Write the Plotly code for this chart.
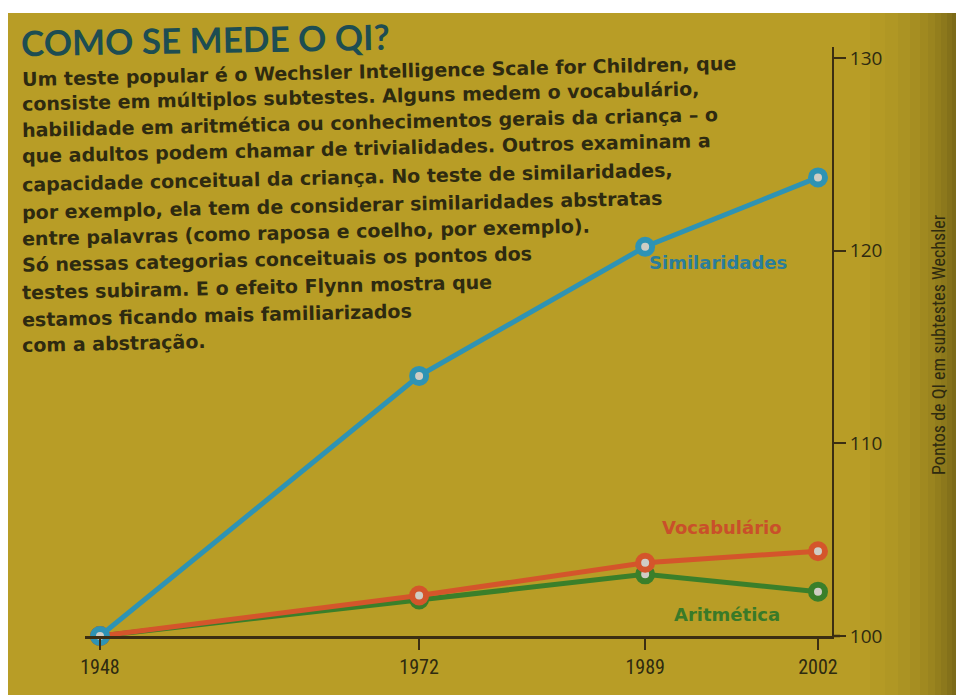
import plotly.graph_objects as go

years = [1948, 1972, 1989, 2002]
similaridades = [100, 113.5, 120.2, 123.8]
vocabulario = [100, 102.1, 103.8, 104.4]
aritmetica = [100, 101.9, 103.2, 102.3]
y_ticks = [100, 110, 120, 130]

title = "COMO SE MEDE O QI?"
body_lines = [
    "Um teste popular é o Wechsler Intelligence Scale for Children, que",
    "consiste em múltiplos subtestes. Alguns medem o vocabulário,",
    "habilidade em aritmética ou conhecimentos gerais da criança – o",
    "que adultos podem chamar de trivialidades. Outros examinam a",
    "capacidade conceitual da criança. No teste de similaridades,",
    "por exemplo, ela tem de considerar similaridades abstratas",
    "entre palavras (como raposa e coelho, por exemplo).",
    "Só nessas categorias conceituais os pontos dos",
    "testes subiram. E o efeito Flynn mostra que",
    "estamos ficando mais familiarizados",
    "com a abstração.",
]
y_title = "Pontos de QI em subtestes Wechsler"

OFF = 8  # browser body margin
W, H = 964 - OFF, 695 - OFF
L = 85 - OFF
T = 47 - OFF
R = W - (832 - OFF)
B = H - (636 - OFF)
PW, PH = W - L - R, H - T - B


def xp(px):
    return (px - OFF - L) / PW


def yp(py):
    return (H - B - (py - OFF)) / PH


BG = "#b89d26"
AXC = "#3b2e12"
TXT = "#2e2a10"
C_SIM = "#2e93b4"
C_VOC = "#d4552b"
C_ARI = "#3a7f2a"
FILL = "#cfcdc4"

fig = go.Figure()
for name, vals, col in [("Aritmética", aritmetica, C_ARI),
                        ("Vocabulário", vocabulario, C_VOC),
                        ("Similaridades", similaridades, C_SIM)]:
    fig.add_trace(go.Scatter(
        x=years, y=vals, mode="lines+markers", name=name,
        line=dict(color=col, width=5),
        marker=dict(size=14, color=FILL, line=dict(color=col, width=6)),
        cliponaxis=False, showlegend=False, hoverinfo="x+y+name"))

shapes = []
shapes.append(dict(type="rect", xref="paper", yref="paper", x0=xp(7), x1=xp(980),
                   y0=yp(710), y1=yp(13), fillcolor=BG, line=dict(width=0), layer="below"))
dark = [(870, "#b49a25"), (885, "#b09724"), (898, "#ab9323"), (910, "#a68e22"),
        (920, "#a08920"), (928, "#9a841f"), (935, "#937e1d"), (941, "#8c781c"),
        (947, "#84711a"), (952, "#7c6a18"), (957, "#736216"), (961, "#6a5a15")]
for px0, c in dark:
    shapes.append(dict(type="rect", xref="paper", yref="paper", x0=xp(px0), x1=xp(980),
                       y0=yp(710), y1=yp(13), fillcolor=c, line=dict(width=0), layer="below"))
shapes.append(dict(type="line", xref="paper", yref="paper", x0=1, x1=xp(840),
                   y0=0, y1=0, line=dict(color=AXC, width=2.5)))

annotations = []
annotations.append(dict(text=title, xref="paper", yref="paper", x=xp(19), y=yp(39),
                        xanchor="left", yanchor="middle", showarrow=False,
                        font=dict(family="Lato", size=35, color="#1d4d52", weight="bold"),
                        textangle=-1.0))
line_y = [71, 96, 122, 148, 177, 205, 232, 259, 287, 315, 343]
for txt, yy in zip(body_lines, line_y):
    annotations.append(dict(text=txt, xref="paper", yref="paper", x=xp(20), y=yp(yy),
                            xanchor="left", yanchor="middle", showarrow=False,
                            font=dict(family="DejaVu Sans", size=19, color=TXT, weight="bold"),
                            textangle=-1.3))
for txt, cx, cy, col in [("Similaridades", 718, 262, "#2a7d9c"),
                         ("Vocabulário", 722, 527, "#c9502a"),
                         ("Aritmética", 727, 614, "#3a7a28")]:
    annotations.append(dict(text=txt, xref="paper", yref="paper", x=xp(cx), y=yp(cy),
                            xanchor="center", yanchor="middle", showarrow=False,
                            font=dict(family="DejaVu Sans", size=18, color=col, weight="bold")))
annotations.append(dict(text=y_title, xref="paper", yref="paper", x=xp(938), y=yp(345),
                        xanchor="center", yanchor="middle", showarrow=False, textangle=-90,
                        font=dict(family="Liberation Sans Narrow, Roboto Condensed, Arial Narrow, sans-serif",
                                  size=18, color=TXT)))

fig.update_layout(
    width=W, height=H,
    margin=dict(l=L, r=R, t=T, b=B),
    paper_bgcolor="#ffffff",
    plot_bgcolor="rgba(0,0,0,0)",
    shapes=shapes,
    annotations=annotations,
    xaxis=dict(range=[1948 - 15 / 13.296, 2002 + 14 / 13.296], tickvals=years,
               showgrid=False, zeroline=False, showline=True, linecolor=AXC, linewidth=2.5,
               ticks="outside", ticklen=11, tickwidth=1.5, tickcolor=AXC,
               tickfont=dict(family="Liberation Sans Narrow, Roboto Condensed, sans-serif",
                             size=20, color=TXT)),
    yaxis=dict(range=[100, 130.57], tickvals=y_ticks, side="right",
               showgrid=False, zeroline=False, showline=True, linecolor=AXC, linewidth=2,
               ticks="outside", ticklen=12, tickwidth=1.5, tickcolor=AXC,
               tickfont=dict(family="Open Sans", size=19, color=TXT)),
)

fig.write_html("out.html")
